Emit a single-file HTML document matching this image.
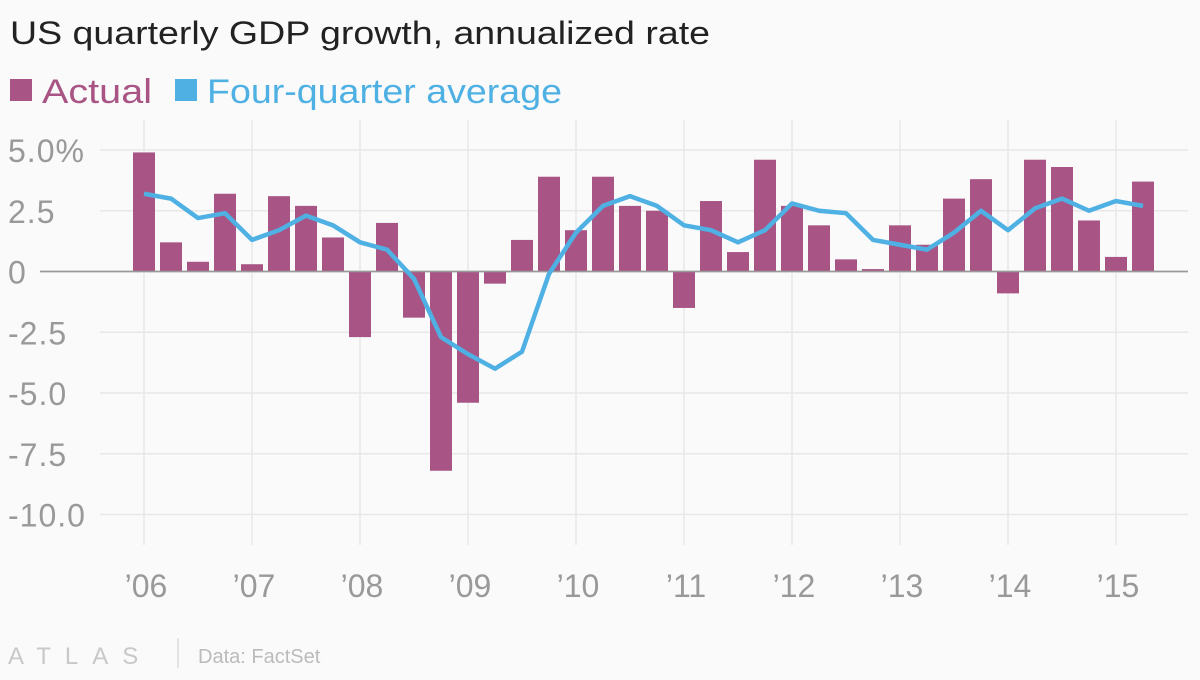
<!DOCTYPE html>
<html><head><meta charset="utf-8"><style>
body{margin:0;background:#fafafa;width:1200px;height:675px;overflow:hidden;font-family:"Liberation Sans",sans-serif}
</style></head><body>
<svg width="1200" height="675">
<rect width="1200" height="675" fill="#fafafa"/>
<text x="10" y="44" font-size="32" fill="#222" textLength="700" lengthAdjust="spacingAndGlyphs">US quarterly GDP growth, annualized rate</text>
<g>
<rect x="10" y="79" width="22" height="22" fill="#a85585"/>
<text x="42" y="103" font-size="34" fill="#a85585" textLength="110" lengthAdjust="spacingAndGlyphs">Actual</text>
<rect x="175" y="79" width="22" height="22" fill="#4fb0e3"/>
<text x="207" y="103" font-size="34" fill="#4fb0e3" textLength="355" lengthAdjust="spacingAndGlyphs">Four-quarter average</text>
</g>
<g id="plot"></g>
<text x="8" y="664" font-size="24" fill="#c8c8c8" letter-spacing="14">ATLAS</text>
<line x1="178" y1="638" x2="178" y2="668" stroke="#ccc"/>
<text x="198" y="663" font-size="20" fill="#bbb">Data: FactSet</text>
</svg>
<script>
const years=["’06","’07","’08","’09","’10","’11","’12","’13","’14","’15"];
const yTicks=[5,2.5,0,-2.5,-5,-7.5,-10];
const yTickLabels=["5.0%","2.5","0","-2.5","-5.0","-7.5","-10.0"];
const actual=[4.9,1.2,0.4,3.2, 0.3,3.1,2.7,1.4, -2.7,2.0,-1.9,-8.2, -5.4,-0.5,1.3,3.9, 1.7,3.9,2.7,2.5, -1.5,2.9,0.8,4.6, 2.7,1.9,0.5,0.1, 1.9,1.1,3.0,3.8, -0.9,4.6,4.3,2.1, 0.6,3.7];
const average=[3.2,3.0,2.2,2.4, 1.3,1.7,2.3,1.9, 1.2,0.9,-0.3,-2.7, -3.4,-4.0,-3.3,-0.1, 1.6,2.7,3.1,2.7, 1.9,1.7,1.2,1.7, 2.8,2.5,2.4,1.3, 1.1,0.9,1.6,2.5, 1.7,2.6,3.0,2.5, 2.9,2.7];
const NS="http://www.w3.org/2000/svg";
const g=document.getElementById('plot');
const y=v=>271.5-v*24.3;
const x=i=>144+i*27;
function el(t,a){const e=document.createElementNS(NS,t);for(const k in a)e.setAttribute(k,a[k]);g.appendChild(e);return e;}
yTicks.forEach((t,i)=>{
 const l=el('line',{x1:t===0?40:100,x2:1188,y1:y(t),y2:y(t),stroke:t===0?'#999':'#e8e8e8','stroke-width':1.5});
 
 
 const tx=el('text',{x:8,y:y(t)+12,'font-size':32,fill:'#999','letter-spacing':1});
 tx.textContent=yTickLabels[i];
 
 
});
years.forEach((yr,i)=>{
 const xx=x(i*4);
 const l=el('line',{x1:xx,x2:xx,y1:120,y2:545,stroke:'#e8e8e8','stroke-width':1.5});
 
 
 const tx=el('text',{x:xx+2,y:597,'font-size':32,fill:'#999','text-anchor':'middle'});
 tx.textContent=yr;
 
 
});
actual.forEach((v,i)=>{
 const r=el('rect',{x:x(i)-11,width:22,y:Math.min(y(v),y(0)),height:Math.abs(y(v)-y(0)),fill:'#a85585'});
 
 
});
const z=el('line',{x1:40,x2:1188,y1:y(0),y2:y(0),stroke:'#999','stroke-width':1.5});


const p=el('polyline',{points:average.map((v,i)=>x(i)+','+y(v)).join(' '),fill:'none',stroke:'#4fb0e3','stroke-width':4.5,'stroke-linejoin':'round'});


</script>
</body></html>
